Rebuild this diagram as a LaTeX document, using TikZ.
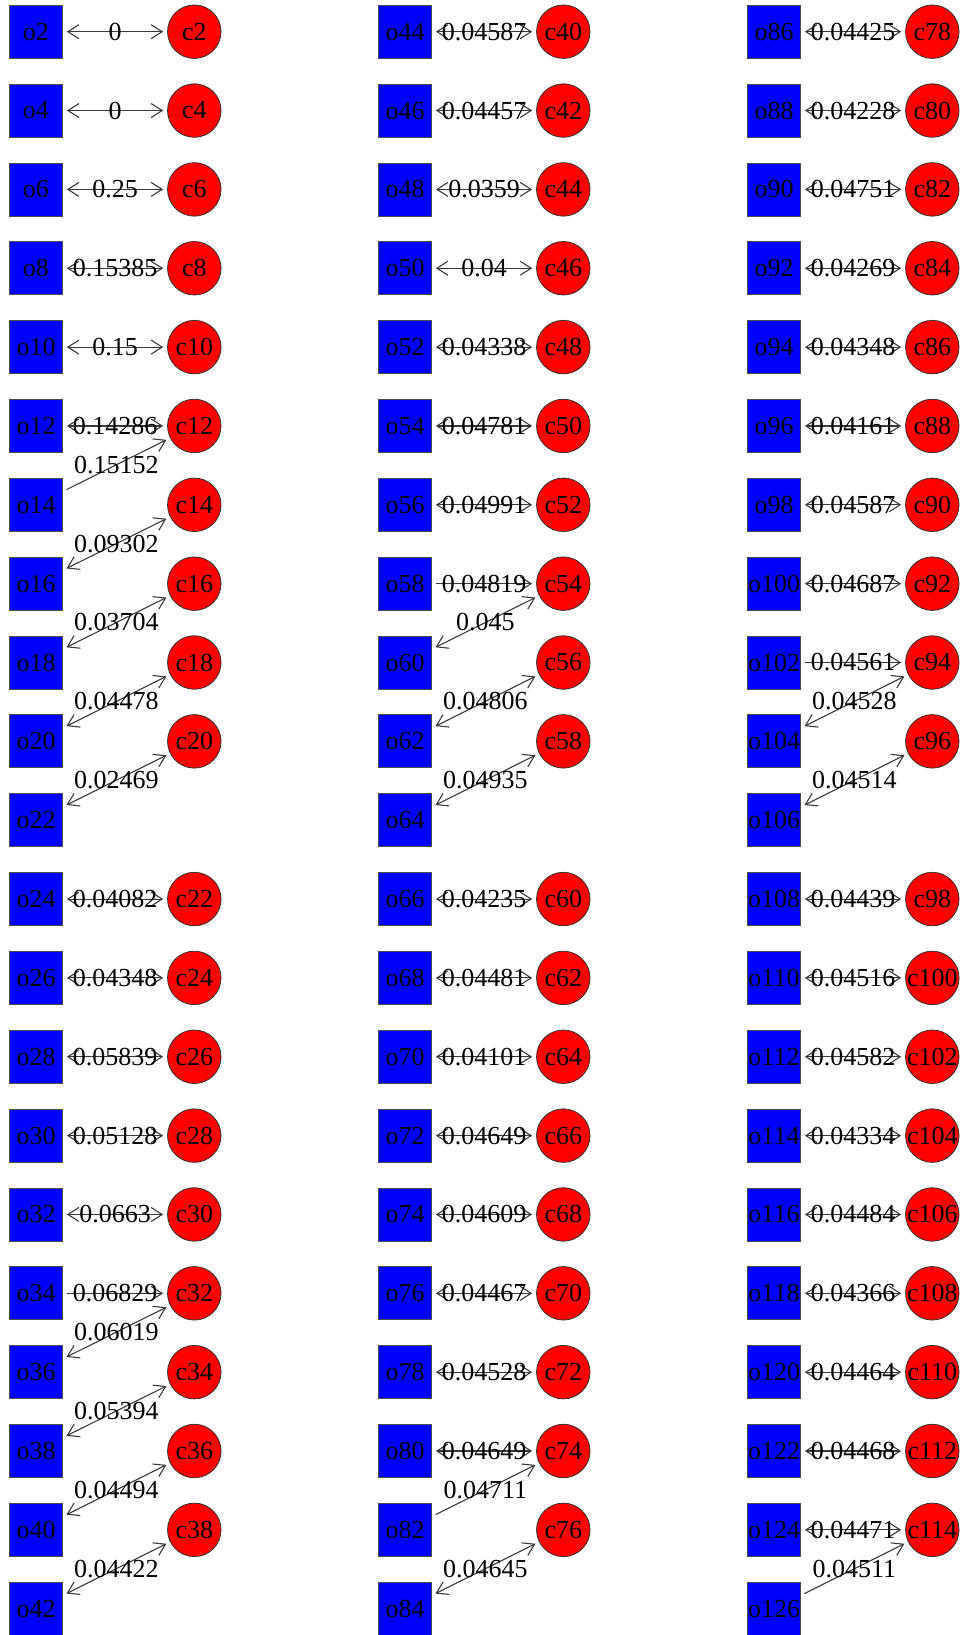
\documentclass[tikz,border=0pt]{standalone}
\usepackage{fontspec}
\setmainfont{Liberation Serif}
\usetikzlibrary{arrows.meta}
\definecolor{edgegray}{HTML}{3A3A3A}
\definecolor{nodeblue}{HTML}{0000FF}
\definecolor{nodered}{HTML}{FF0000}
\begin{document}
\begin{tikzpicture}[x=1pt,y=-1pt,
  lblfont/.style={font=\fontsize{26}{31}\selectfont},
  sq/.style={lblfont, draw=black!70, fill=nodeblue, minimum size=53pt, inner sep=0pt, line width=0.8pt},
  cc/.style={lblfont, circle, draw=black!80, fill=nodered, minimum size=53.5pt, inner sep=0pt, line width=0.8pt},
  tip/.tip={Straight Barb[length=11pt,width=14pt]},
  both/.style={draw=edgegray, line width=1.1pt, tip-tip, shorten <=4pt, shorten >=4pt},
  one/.style={draw=edgegray, line width=1.1pt, -tip, shorten <=4pt, shorten >=4pt},
  lbl/.style={lblfont, inner sep=0pt, text=black}
]
\useasboundingbox (0,0) rectangle (963,1635);
\foreach \c/\ob/\cb in {0/2/2, 1/44/40, 2/86/78} {
  \pgfmathsetmacro\xo{36+369*\c}
  \pgfmathsetmacro\xc{194.3+369*\c}
  \foreach \r in {0,...,20} {
    \pgfmathtruncatemacro\n{\ob+2*\r}
    \pgfmathsetmacro\yy{31.7+78.85*\r}
    \node[sq] (o\n) at (\xo,\yy) {o\n};
  }
  \foreach \r in {0,...,9} {
    \pgfmathtruncatemacro\n{\cb+2*\r}
    \pgfmathsetmacro\yy{31.7+78.85*\r}
    \node[cc] (c\n) at (\xc,\yy) {c\n};
  }
  \foreach \r in {11,...,19} {
    \pgfmathtruncatemacro\n{\cb+2*(\r-1)}
    \pgfmathsetmacro\yy{31.7+78.85*\r}
    \node[cc] (c\n) at (\xc,\yy) {c\n};
  }
}
\foreach \a/\b/\l/\s in {
  2/2/0/both, 4/4/0/both, 6/6/0.25/both, 8/8/0.15385/both, 10/10/0.15/both,
  12/12/0.14286/both, 14/12/0.15152/one, 16/14/0.09302/both, 18/16/0.03704/both,
  20/18/0.04478/both, 22/20/0.02469/both, 24/22/0.04082/both, 26/24/0.04348/both,
  28/26/0.05839/both, 30/28/0.05128/both, 32/30/0.0663/both, 34/32/0.06829/one,
  36/32/0.06019/both, 38/34/0.05394/both, 40/36/0.04494/both, 42/38/0.04422/both,
  44/40/0.04587/both, 46/42/0.04457/both, 48/44/0.0359/both, 50/46/0.04/both,
  52/48/0.04338/both, 54/50/0.04781/both, 56/52/0.04991/both, 58/54/0.04819/one,
  60/54/0.045/both, 62/56/0.04806/both, 64/58/0.04935/both, 66/60/0.04235/both,
  68/62/0.04481/both, 70/64/0.04101/both, 72/66/0.04649/both, 74/68/0.04609/both,
  76/70/0.04467/both, 78/72/0.04528/both, 80/74/0.04649/both, 82/74/0.04711/one,
  84/76/0.04645/both,
  86/78/0.04425/both, 88/80/0.04228/both, 90/82/0.04751/both, 92/84/0.04269/both,
  94/86/0.04348/both, 96/88/0.04161/both, 98/90/0.04587/both, 100/92/0.04687/both,
  102/94/0.04561/one, 104/94/0.04528/both, 106/96/0.04514/both, 108/98/0.04439/both,
  110/100/0.04516/both, 112/102/0.04582/both, 114/104/0.04334/both, 116/106/0.04484/both,
  118/108/0.04366/both, 120/110/0.04464/both, 122/112/0.04468/both, 124/114/0.04471/both,
  126/114/0.04511/one} {
  \draw[\s] (o\a) -- node[lbl] {\l} (c\b);
}
\end{tikzpicture}
\end{document}
